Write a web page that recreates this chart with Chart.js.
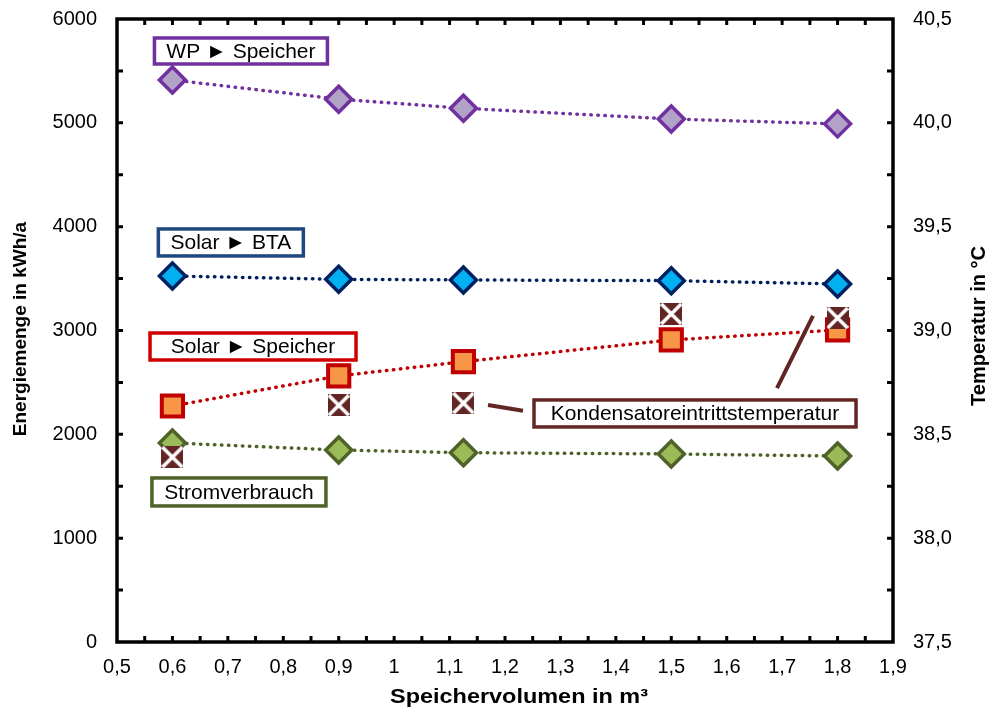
<!DOCTYPE html>
<html>
<head>
<meta charset="utf-8">
<script src="https://cdn.jsdelivr.net/npm/chart.js@4.4.0/dist/chart.umd.min.js"></script>
<style>
    html, body { margin: 0; padding: 0; background: #fff; }
    #wrap { width: 990px; height: 711px; }
</style>
</head>
<body>
<div id="wrap"><canvas id="chart" width="990" height="711"></canvas></div>
<script>
// Daten
const volumen = [0.6, 0.9, 1.125, 1.5, 1.8];
const wpSpeicher = [5413, 5228, 5140, 5037, 4990];
const solarBTA = [3525, 3493, 3487, 3480, 3448];
const solarSpeicher = [2273, 2562, 2700, 2909, 3005];
const stromverbrauch = [1917, 1849, 1823, 1811, 1791];
const kondTemp = [38.39, 38.64, 38.65, 39.08, 39.06];

// Achsenbeschriftungen
const xTicks = [0.5, 0.6, 0.7, 0.8, 0.9, 1.0, 1.1, 1.2, 1.3, 1.4, 1.5, 1.6, 1.7, 1.8, 1.9];
const yTicks = [0, 1000, 2000, 3000, 4000, 5000, 6000];
const tTicks = [37.5, 38.0, 38.5, 39.0, 39.5, 40.0, 40.5];

const FONT = "'Liberation Sans', Arial, sans-serif";

// Punktepaare bauen
function pts(ys) {
    return volumen.map((x, i) => ({ x: x, y: ys[i] }));
}

// Marker für die Temperatur: dunkles Quadrat mit weißem Kreuz
function kreuzMarker() {
    const c = document.createElement("canvas");
    c.width = 22;
    c.height = 22;
    const g = c.getContext("2d");
    g.fillStyle = "#632523";
    g.fillRect(0, 0, 22, 22);
    g.strokeStyle = "#fff";
    g.lineWidth = 3.5;
    g.beginPath();
    g.moveTo(1, 1); g.lineTo(21, 21);
    g.moveTo(21, 1); g.lineTo(1, 21);
    g.stroke();
    return c;
}

function linie(label, ys, farbe, fuellung, stil, radius, rand, order) {
    return {
        label: label,
        data: pts(ys),
        yAxisID: "y",
        showLine: true,
        borderColor: farbe,
        borderWidth: 3.5,
        borderDash: [0.5, 6.5],
        borderCapStyle: "round",
        pointStyle: stil,
        pointRadius: radius,
        pointBorderWidth: rand,
        pointBorderColor: farbe,
        pointBackgroundColor: fuellung,
        order: order
    };
}

// Y-Achsen: feste Breite, kein Zusatzrand oben/unten
function festeBreite(w) {
    return s => {
        s.width = w;
        s.paddingTop = 0;
        s.paddingBottom = 0;
    };
}

// Rahmen, Teilstriche, Achsentitel, Beschriftungskästen
const deko = {
    id: "deko",
    afterDraw(chart, args, opts) {
        const ctx = chart.ctx;
        const a = chart.chartArea;
        const sx = chart.scales.x, sy = chart.scales.y, st = chart.scales.y1;
        ctx.save();

        // Verbindungslinien zur Temperatur-Beschriftung
        ctx.strokeStyle = "#632523";
        ctx.lineWidth = 4;
        opts.leader.forEach(l => {
            ctx.beginPath();
            ctx.moveTo(sx.getPixelForValue(l[0]), sy.getPixelForValue(l[1]));
            ctx.lineTo(sx.getPixelForValue(l[2]), sy.getPixelForValue(l[3]));
            ctx.stroke();
        });

        // Kästen
        opts.boxes.forEach(b => {
            const cx = sx.getPixelForValue(b.x);
            const cy = sy.getPixelForValue(b.y);
            ctx.fillStyle = "#fff";
            ctx.fillRect(cx - b.w / 2, cy - b.h / 2, b.w, b.h);
            ctx.strokeStyle = b.color;
            ctx.lineWidth = 3.5;
            ctx.strokeRect(cx - b.w / 2, cy - b.h / 2, b.w, b.h);
            ctx.fillStyle = "#000";
            ctx.font = "21px " + FONT;
            ctx.textAlign = "center";
            ctx.textBaseline = "middle";
            ctx.fillText(b.text, cx, cy + 1);
        });

        // Rahmen
        ctx.strokeStyle = "#000";
        ctx.lineWidth = 3.5;
        ctx.strokeRect(a.left, a.top, a.right - a.left, a.bottom - a.top);

        // Teilstriche nach innen
        ctx.lineWidth = 3;
        ctx.beginPath();
        for (let v = 0.55; v < 1.89; v += 0.05) {
            const px = sx.getPixelForValue(v);
            ctx.moveTo(px, a.bottom); ctx.lineTo(px, a.bottom - 6);
            ctx.moveTo(px, a.top); ctx.lineTo(px, a.top + 6);
        }
        for (let v = 500; v < 6000; v += 500) {
            const py = sy.getPixelForValue(v);
            ctx.moveTo(a.left, py); ctx.lineTo(a.left + 6, py);
        }
        for (let v = 37.75; v < 40.5; v += 0.25) {
            const py = st.getPixelForValue(v);
            ctx.moveTo(a.right, py); ctx.lineTo(a.right - 6, py);
        }
        ctx.stroke();

        // Achsentitel
        ctx.fillStyle = "#000";
        ctx.textAlign = "center";
        ctx.textBaseline = "middle";
        ctx.font = "bold 20px " + FONT;
        const xt = "Speichervolumen in m³";
        const k = 258 / ctx.measureText(xt).width;
        ctx.save();
        ctx.translate(519, 697);
        ctx.scale(k, 1);
        ctx.fillText(xt, 0, 0);
        ctx.restore();

        ctx.font = "bold 19px " + FONT;
        ctx.save();
        ctx.translate(21, 329);
        ctx.rotate(-Math.PI / 2);
        ctx.fillText("Energiemenge in kWh/a", 0, 0);
        ctx.restore();

        ctx.font = "bold 20px " + FONT;
        ctx.save();
        ctx.translate(979, 326);
        ctx.rotate(-Math.PI / 2);
        ctx.fillText("Temperatur in °C", 0, 0);
        ctx.restore();

        ctx.restore();
    }
};

const komma1 = v => Number(v).toFixed(1).replace(".", ",");

new Chart(document.getElementById("chart"), {
    type: "scatter",
    data: {
        datasets: [
            {
                label: "Kondensatoreintrittstemperatur",
                data: pts(kondTemp),
                yAxisID: "y1",
                showLine: false,
                pointStyle: kreuzMarker(),
                pointRadius: 11,
                order: 0
            },
            linie("WP ► Speicher", wpSpeicher, "#7030A0", "#B3A2C7", "rectRot", 13, 3.5, 1),
            linie("Solar ► BTA", solarBTA, "#002060", "#00B0F0", "rectRot", 13, 3.5, 2),
            linie("Solar ► Speicher", solarSpeicher, "#C00000", "#F79646", "rect", 15, 4, 3),
            linie("Stromverbrauch", stromverbrauch, "#4F6228", "#9BBB59", "rectRot", 13, 3.5, 4)
        ]
    },
    options: {
        responsive: false,
        animation: false,
        layout: { padding: { top: 19 } },
        plugins: {
            legend: { display: false },
            tooltip: { enabled: false },
            deko: {
                boxes: [
                    { text: "WP ► Speicher", x: 0.7236, y: 5692, w: 173, h: 26, color: "#7030A0" },
                    { text: "Solar ► BTA", x: 0.7054, y: 3848, w: 145, h: 27, color: "#1F497D" },
                    { text: "Solar ► Speicher", x: 0.7454, y: 2846, w: 206, h: 27, color: "#D00000" },
                    { text: "Stromverbrauch", x: 0.7200, y: 1445, w: 174, h: 28, color: "#4F6228" },
                    { text: "Kondensatoreintrittstemperatur", x: 1.5428, y: 2201, w: 322, h: 27, color: "#632523" }
                ],
                leader: [
                    [1.1693, 2283, 1.2325, 2228],
                    [1.7556, 3140, 1.6907, 2446]
                ]
            }
        },
        scales: {
            x: {
                type: "linear",
                position: "bottom",
                min: 0.5,
                max: 1.9,
                grid: { display: false, drawTicks: false },
                border: { display: false },
                afterBuildTicks: s => { s.ticks = xTicks.map(v => ({ value: v })); },
                afterFit: s => { s.height = 69; },
                ticks: {
                    color: "#000",
                    font: { family: FONT, size: 20 },
                    padding: 13,
                    maxRotation: 0,
                    autoSkip: false,
                    callback: v => String(Number(v.toFixed(1))).replace(".", ",")
                }
            },
            y: {
                position: "left",
                min: 0,
                max: 6000,
                grid: { display: false, drawTicks: false },
                border: { display: false },
                afterBuildTicks: s => { s.ticks = yTicks.map(v => ({ value: v })); },
                afterFit: festeBreite(117),
                ticks: {
                    color: "#000",
                    font: { family: FONT, size: 20 },
                    padding: 20,
                    callback: v => String(v)
                }
            },
            y1: {
                position: "right",
                min: 37.5,
                max: 40.5,
                grid: { display: false, drawTicks: false },
                border: { display: false },
                afterBuildTicks: s => { s.ticks = tTicks.map(v => ({ value: v })); },
                afterFit: festeBreite(97),
                ticks: {
                    color: "#000",
                    font: { family: FONT, size: 20 },
                    padding: 20,
                    callback: komma1
                }
            }
        }
    },
    plugins: [deko]
});
</script>
</body>
</html>
